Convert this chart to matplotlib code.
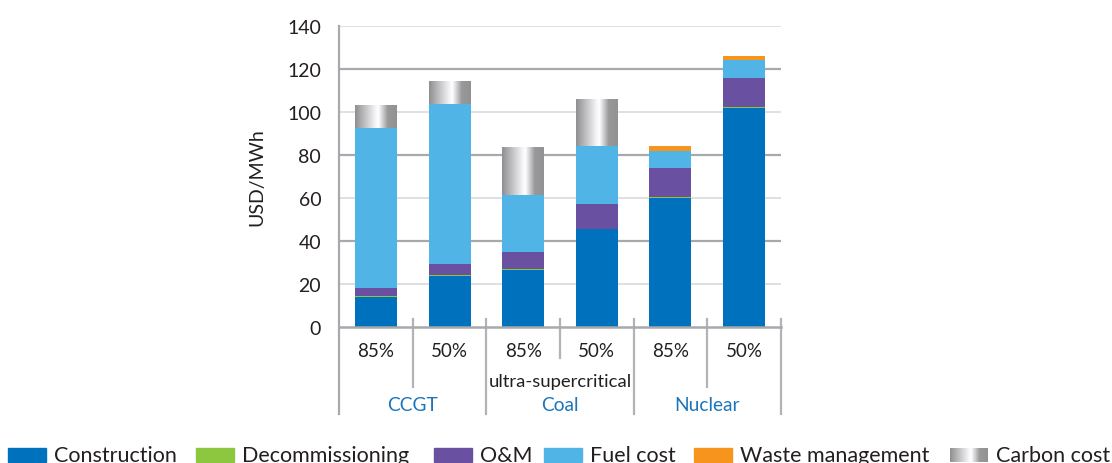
import numpy as np
import matplotlib
matplotlib.use("Agg")
import matplotlib.pyplot as plt
from matplotlib.patches import Rectangle
from matplotlib.transforms import blended_transform_factory

plt.rcParams['font.family'] = ['Lato', 'DejaVu Sans']

# data
groups = ['CCGT', 'Coal', 'Nuclear']
load_factor = ['85%', '50%', '85%', '50%', '85%', '50%']
construction = [14.0, 23.8, 26.6, 45.3, 60.0, 102.0]
decommissioning = [0.3, 0.3, 0.3, 0.3, 0.5, 0.5]
om = [3.7, 5.1, 7.9, 11.6, 13.5, 13.5]
fuel = [74.7, 74.7, 26.8, 27.1, 8.1, 8.1]
waste = [0, 0, 0, 0, 2.2, 2.2]
carbon = [10.3, 10.3, 22.2, 21.9, 0, 0]
y_ticks = [0, 20, 40, 60, 80, 100, 120, 140]

series = [('Construction', construction, '#0071bc'),
          ('Decommissioning', decommissioning, '#8dc63f'),
          ('O&M', om, '#6950a1'),
          ('Fuel cost', fuel, '#50b5e6'),
          ('Waste management', waste, '#f7941d')]

txt = '#231f20'
blue_txt = '#1b75bb'

# gray -> white -> gray profile used for the carbon cost segments
grad = np.interp(np.linspace(0, 1, 200), [0, 0.5, 0.56, 0.78, 1.0],
                 [0.56, 0.97, 1.0, 0.6, 0.57])
grad_img = np.dstack([grad, grad, np.clip(grad * 1.01, 0, 1)])  # shape (1, 200, 3)

fig = plt.figure(figsize=(11.12, 4.64), dpi=100)
ax = fig.add_axes([339.3 / 1112, 1 - 327.7 / 464, 441.4 / 1112, 300.4 / 464])

x = np.arange(len(load_factor))
w = 0.57
bottom = np.zeros(len(x))
for name, vals, col in series:
    ax.bar(x, vals, w, bottom=bottom, color=col, zorder=3)
    bottom += np.array(vals)

cbars = ax.bar(x, carbon, w, bottom=bottom, color='#909194', zorder=3)
for r, h in zip(cbars, carbon):
    if h > 0:
        ax.imshow(grad_img, aspect='auto', zorder=4,
                  extent=[r.get_x(), r.get_x() + r.get_width(),
                          r.get_y(), r.get_y() + h])

ax.set_xlim(-0.5, 5.5)
ax.set_ylim(0, 140)

for t in y_ticks:
    if t == 0:
        continue
    if t % 40 == 0:
        ax.axhline(t, color='#a7a9ac', lw=1.6, zorder=1)
    else:
        ax.axhline(t, color='#d6d7d9', lw=1.1, zorder=1)

for s in ['top', 'right', 'bottom', 'left']:
    ax.spines[s].set_visible(False)
ax.axhline(0, color='#a7a9ac', lw=1.8, zorder=5, clip_on=False)

ax.set_yticks(y_ticks)
ax.set_yticklabels([str(t) for t in y_ticks], fontsize=14, color=txt)
ax.tick_params(axis='y', length=0, pad=13)
ax.set_xticks([])
ax.set_ylabel('USD/MWh', fontsize=14, color=txt, labelpad=16)

# table-like category axis below the plot
tr = blended_transform_factory(ax.transData, fig.transFigure)
def fy(py):
    return 1 - py / 464

ax.plot([-0.5, -0.5], [fy(27.3), fy(415)], transform=tr, color='#a7a9ac',
        lw=1.6, clip_on=False, zorder=5)
for b in np.arange(0.5, 6, 1.0):
    if b in (1.5, 3.5, 5.5):
        end = 415
    elif b == 2.5:
        end = 359
    else:
        end = 388
    ax.plot([b, b], [fy(320), fy(end)], transform=tr, color='#b1b3b6',
            lw=1.6, clip_on=False)

for i, lab in enumerate(load_factor):
    ax.text(i, fy(352), lab, transform=tr, ha='center', va='center',
            fontsize=13.5, color=txt)
ax.text(2.5, fy(382), 'ultra-supercritical', transform=tr, ha='center',
        va='center', fontsize=13.3, color=txt)
for i, g in enumerate(groups):
    ax.text(2 * i + 0.5, fy(406), g, transform=tr, ha='center', va='center',
            fontsize=13.8, color=blue_txt)

# legend along the bottom edge
leg_boxes = [8, 196, 434, 544, 694, 950]
leg_names = [s[0] for s in series] + ['Carbon cost']
leg_cols = [s[2] for s in series] + [None]
for bx, name, col in zip(leg_boxes, leg_names, leg_cols):
    if col is None:
        lax = fig.add_axes([bx / 1112, 1 - 463 / 464, 38 / 1112, 14 / 464])
        lax.imshow(grad_img, aspect='auto')
        lax.axis('off')
    else:
        fig.add_artist(Rectangle((bx / 1112, 1 - 463 / 464), 38 / 1112,
                                 14 / 464, transform=fig.transFigure,
                                 color=col))
    fig.text((bx + 46) / 1112, 1 - 456 / 464, name, ha='left', va='center',
             fontsize=15.5, color=txt)

fig.savefig('out.png', dpi=100)
